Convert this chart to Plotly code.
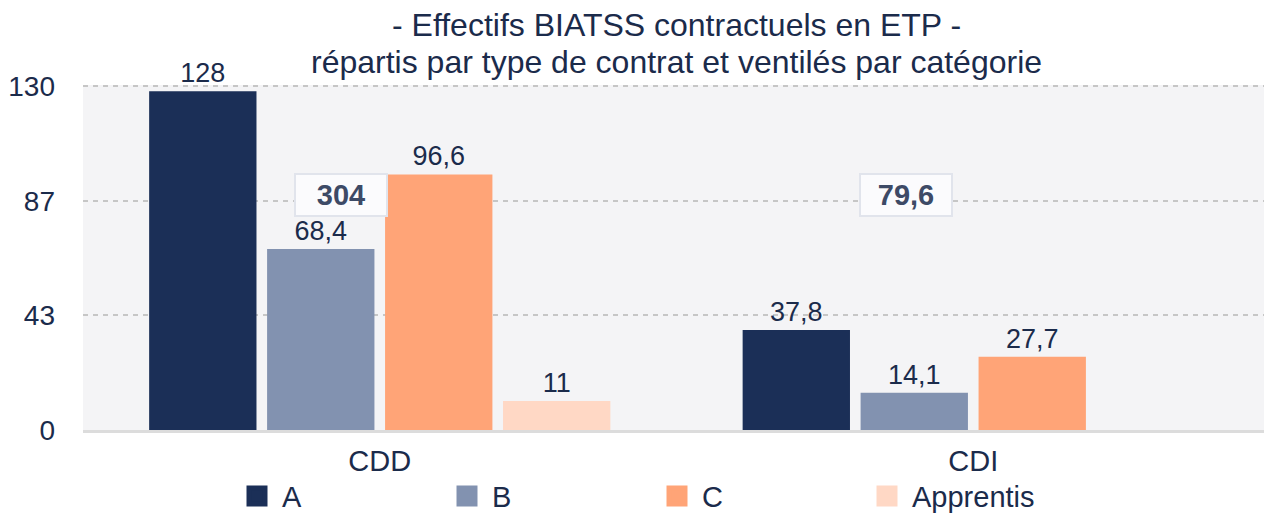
import plotly.graph_objects as go

categories = ["CDD", "CDI"]
series_names = ["A", "B", "C", "Apprentis"]
values_A = [128, 37.8]
values_B = [68.4, 14.1]
values_C = [96.6, 27.7]
values_Appr = [11, None]
labels_A = ["128", "37,8"]
labels_B = ["68,4", "14,1"]
labels_C = ["96,6", "27,7"]
labels_Appr = ["11", ""]
totals = ["304", "79,6"]
tick_vals = [0, 43.33, 86.67, 130]
tick_text = ["0", "43", "87", "130"]
title_lines = ["- Effectifs BIATSS contractuels en ETP -",
               "répartis par type de contrat et ventilés par catégorie"]

colors = ["#1b2f57", "#8292b0", "#ffa477", "#ffd8c5"]
FONT = "Liberation Sans"
TXT = "#1b2b4b"

fig = go.Figure()
for name, vals, labs, col in zip(series_names,
                                 [values_A, values_B, values_C, values_Appr],
                                 [labels_A, labels_B, labels_C, labels_Appr],
                                 colors):
    fig.add_trace(go.Bar(
        name=name, x=categories, y=vals, text=labs,
        textposition="outside", cliponaxis=False, showlegend=False,
        textfont=dict(family=FONT, size=27, color=TXT),
        marker=dict(color=col, line=dict(width=0)),
    ))
# legend entries (larger square swatches)
for name, col in zip(series_names, colors):
    fig.add_trace(go.Scatter(
        name=name, x=[None], y=[None], mode="markers",
        marker=dict(symbol="square", size=16, color=col,
                    line=dict(color=col, width=5)),
        showlegend=True,
    ))

shifts = [-39, -67]
for cat, tot, sh in zip(categories, totals, shifts):
    fig.add_annotation(
        x=cat, y=89, xref="x", yref="y", xshift=sh,
        text="<b>" + tot + "</b>", showarrow=False,
        font=dict(family=FONT, size=29, color="#3d4a66"),
        bgcolor="#fbfbfd", bordercolor="#e1e4ec", borderwidth=2,
        borderpad=3, width=84, height=34,
    )

# chart title: two centred lines above the plot area
for line, ys in zip(title_lines, [60, 23]):
    fig.add_annotation(
        x=0.5, y=1, xref="paper", yref="paper",
        xanchor="center", yanchor="middle", yshift=ys,
        text=line, showarrow=False,
        font=dict(family=FONT, size=32, color=TXT),
    )

fig.update_layout(
    width=1264, height=505,
    margin=dict(l=75, r=2, t=77, b=83, autoexpand=False),
    paper_bgcolor="white", plot_bgcolor="#f4f4f6",
    barmode="group", bargap=0.205, bargroupgap=0.09,
    font=dict(family=FONT, size=27, color=TXT),
    legend=dict(
        orientation="h", x=224 / 1264, xref="container", xanchor="left",
        y=-0.192, yref="paper", yanchor="middle",
        entrywidth=155, entrywidthmode="pixels", itemwidth=40,
        font=dict(family=FONT, size=29, color=TXT),
        bgcolor="rgba(0,0,0,0)",
    ),
    showlegend=True,
)
fig.update_yaxes(
    range=[0, 130.4], tickvals=tick_vals, ticktext=tick_text,
    showgrid=True, gridcolor="#c6c6c6", griddash="5px,5px", gridwidth=2,
    zeroline=False, showline=False, ticks="", ticklabelstandoff=27,
    tickfont=dict(family=FONT, size=28, color=TXT),
)
fig.update_xaxes(
    showline=True, linecolor="#dcdcdc", linewidth=3, ticks="",
    ticklabelstandoff=3,
    tickfont=dict(family=FONT, size=29, color=TXT),
)
fig.write_html("out.html")
